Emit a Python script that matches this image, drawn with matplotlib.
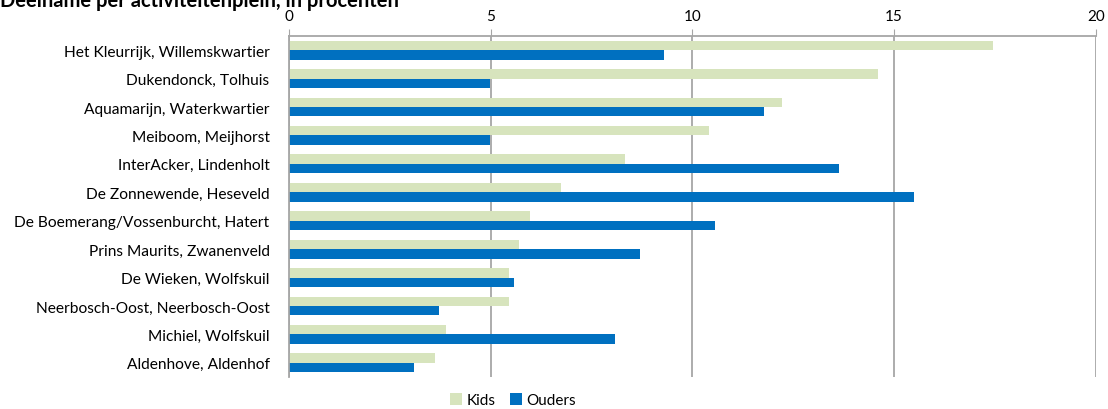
import numpy as np
import matplotlib
matplotlib.use('Agg')
from matplotlib import pyplot as plt

plt.rcParams['font.family'] = ['Lato', 'DejaVu Sans']

locaties = [
    "Het Kleurrijk, Willemskwartier",
    "Dukendonck, Tolhuis",
    "Aquamarijn, Waterkwartier",
    "Meiboom, Meijhorst",
    "InterAcker, Lindenholt",
    "De Zonnewende, Heseveld",
    "De Boemerang/Vossenburcht, Hatert",
    "Prins Maurits, Zwanenveld",
    "De Wieken, Wolfskuil",
    "Neerbosch-Oost, Neerbosch-Oost",
    "Michiel, Wolfskuil",
    "Aldenhove, Aldenhof",
]
kids = [17.44, 14.59, 12.23, 10.40, 8.34, 6.75, 5.98, 5.71, 5.46, 5.46, 3.89, 3.63]
ouders = [9.29, 4.98, 11.78, 4.98, 13.64, 15.50, 10.56, 8.69, 5.59, 3.73, 8.07, 3.11]
xticks = [0, 5, 10, 15, 20]

fig = plt.figure(figsize=(11.08, 4.10), dpi=100)
ax = fig.add_axes([0.2608, 0.078, 0.989 - 0.2608, 0.9098 - 0.078])

y = np.arange(len(locaties))
h = 0.33
ax.barh(y - h / 2, kids, height=h, color='#D7E4BD', label='Kids', zorder=2)
ax.barh(y + h / 2, ouders, height=h, color='#0070C0', label='Ouders', zorder=2)

ax.set_xlim(0, 20)
ax.set_ylim(len(locaties) - 0.5, -0.5)
ax.set_yticks(y)
ax.set_yticklabels(locaties, fontsize=11.2)
ax.tick_params(axis='y', length=0, pad=14)

ax.xaxis.tick_top()
ax.set_xticks(xticks)
ax.set_xticklabels([str(t) for t in xticks], fontsize=11)
ax.tick_params(axis='x', length=5, color='#a6a6a6', pad=4)
ax.grid(axis='x', color='#a6a6a6', linewidth=1.3, zorder=1)

for s in ['right', 'bottom']:
    ax.spines[s].set_visible(False)
for s in ['top', 'left']:
    ax.spines[s].set_color('#a6a6a6')
    ax.spines[s].set_linewidth(1.3)

fig.text(0.0, 1 - 7 / 410, "Deelname per activiteitenplein, in procenten",
         fontsize=14.5, fontweight='bold', va='baseline', ha='left')

fig.legend(loc='center', bbox_to_anchor=(0.463, 0.022), ncol=2, frameon=False,
           fontsize=11, handlelength=0.8, handleheight=0.8, handletextpad=0.3,
           columnspacing=0.9)

fig.savefig('out.png', dpi=100)
